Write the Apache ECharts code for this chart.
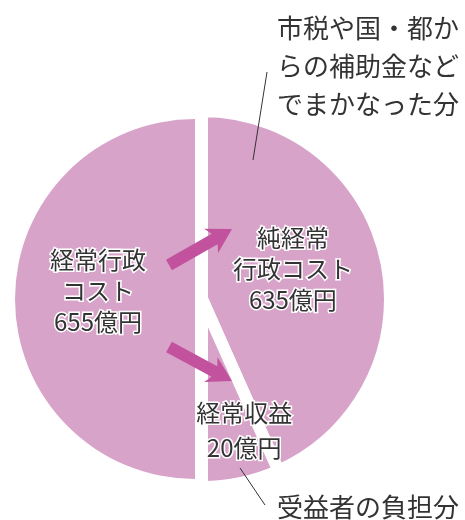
<!DOCTYPE html>
<html lang="ja">

<head>
  <meta charset="UTF-8">
  <title>経常行政コスト</title>
  <script src="https://cdn.jsdelivr.net/npm/echarts@6/dist/echarts.min.js"></script>
  <style>
    body { margin: 0; background: #fff; }
  </style>
</head>

<body>
  <div id="main" style="width: 465px; height: 520px"></div>

  <script>
    let dom = document.getElementById('main')
    let myChart = echarts.init(dom)

    // 左: 総額 / 右: 内訳
    let totalName = ['経常行政\nコスト']
    let totalValue = [655]
    let partNames = ['純経常\n行政コスト', '経常収益']
    let partValues = [635, 20]
    let notes = ['市税や国・都か\nらの補助金など\nでまかなった分', '受益者の負担分']

    let font = '"Noto Sans CJK JP", sans-serif'
    let pink = '#d8a3c9'
    let magenta = '#c2529e'

    let labelStyle = {
      show: true,
      position: 'inside',
      formatter: p => p.name + '\n' + p.value + '億円',
      fontFamily: font,
      fontSize: 24,
      lineHeight: 31,
      color: '#333',
      textBorderColor: '#fff',
      textBorderWidth: 3
    }

    // 矢印の頂点を計算
    function arrow(x1, y1, x2, y2) {
      let dx = x2 - x1, dy = y2 - y1
      let len = Math.sqrt(dx * dx + dy * dy)
      let ux = dx / len, uy = dy / len
      let nx = -uy, ny = ux
      let h = 24, w = 6, hw = 14
      let local = [[0, -w], [len - h + 4, -w], [len - h, -hw], [len, 0], [len - h, hw], [len - h + 4, w], [0, w]]
      return local.map(([a, b]) => [x1 + ux * a + nx * b, y1 + uy * a + ny * b])
    }

    let option = {
      animation: false,
      series: [{
          type: 'pie',
          center: [195, 299],
          radius: 180,
          startAngle: 270,
          endAngle: 90,
          silent: true,
          itemStyle: { color: pink },
          label: Object.assign({}, labelStyle, { offset: [-4, -8] }),
          labelLine: { show: false },
          data: totalName.map((n, i) => ({ name: n, value: totalValue[i] }))
        },
        {
          type: 'pie',
          center: [202, 299],
          radius: 188,
          startAngle: 90,
          endAngle: -90,
          minAngle: 24,
          silent: true,
          itemStyle: { color: pink, borderColor: '#fff', borderWidth: 12 },
          label: labelStyle,
          labelLine: { show: false },
          data: partNames.map((n, i) => ({
            name: n,
            value: partValues[i],
            label: { offset: i === 0 ? [-4, -10] : [22, 36], lineHeight: i === 0 ? 31 : 35 }
          }))
        }
      ],
      graphic: [{
          type: 'polygon',
          z: 100,
          shape: { points: arrow(169, 265, 232, 229) },
          style: { fill: magenta }
        },
        {
          type: 'polygon',
          z: 100,
          shape: { points: arrow(169, 347, 232, 381) },
          style: { fill: magenta }
        },
        {
          type: 'line',
          z: 100,
          shape: { x1: 253, y1: 160, x2: 267, y2: 72 },
          style: { stroke: '#333', lineWidth: 1 }
        },
        {
          type: 'line',
          z: 100,
          shape: { x1: 240, y1: 468, x2: 265, y2: 505 },
          style: { stroke: '#333', lineWidth: 1 }
        },
        {
          type: 'text',
          z: 100,
          left: 277,
          top: 9,
          style: { text: notes[0], font: '26px ' + font, lineHeight: 38, fill: '#333' }
        },
        {
          type: 'text',
          z: 100,
          left: 277,
          top: 494,
          style: { text: notes[1], font: '26px ' + font, fill: '#333' }
        }
      ]
    }
    myChart.setOption(option)
  </script>
</body>

</html>
